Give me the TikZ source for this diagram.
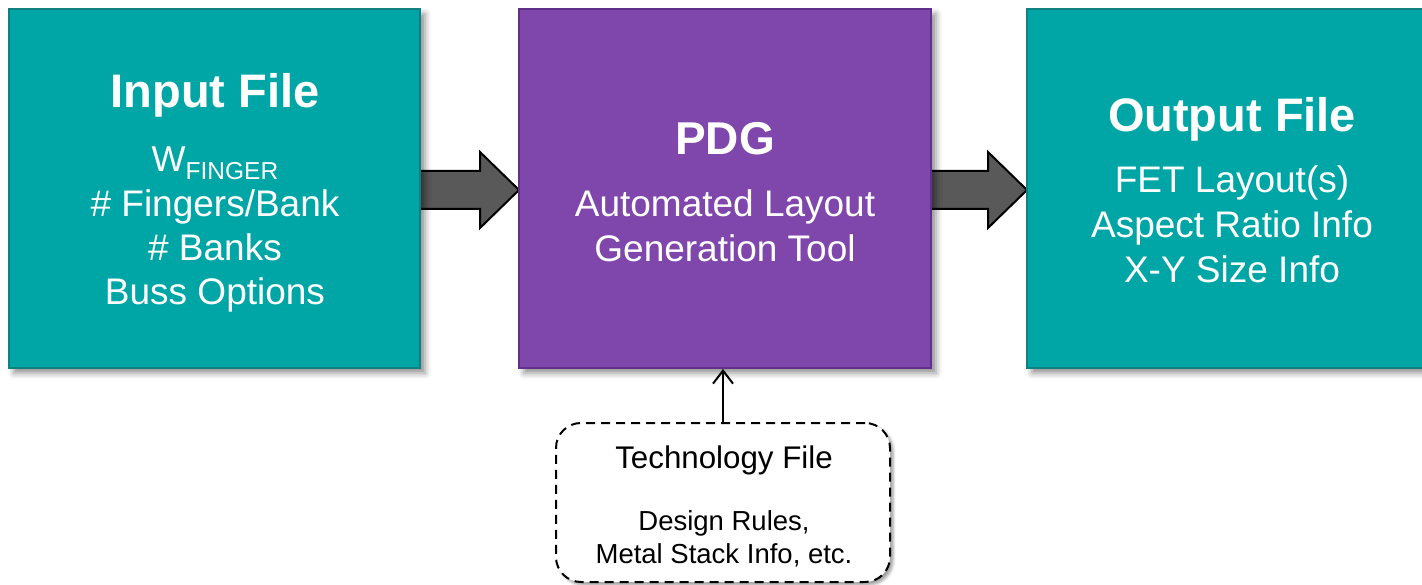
\documentclass[tikz,border=0pt]{standalone}
\usepackage{fontspec}
\setmainfont{Liberation Sans}
\usetikzlibrary{calc,arrows.meta,shadows.blur}

\definecolor{tealfill}{RGB}{0,166,166}
\definecolor{tealline}{RGB}{16,128,128}
\definecolor{purplefill}{RGB}{127,71,171}
\definecolor{purpleline}{RGB}{96,48,138}
\definecolor{arrowgray}{RGB}{89,89,89}

\newcommand{\fs}[1]{\fontsize{#1}{#1}\selectfont}

\tikzset{
  boxshadow/.style={blur shadow={shadow xshift=5pt, shadow yshift=-5pt,
      shadow blur radius=6pt, shadow opacity=45}},
  filebox/.style={rectangle, draw=tealline, fill=tealfill, line width=2pt,
      minimum width=411pt, minimum height=359pt, inner sep=0pt, boxshadow},
  toolbox/.style={rectangle, draw=purpleline, fill=purplefill, line width=2pt,
      minimum width=412pt, minimum height=359pt, inner sep=0pt, boxshadow},
  techbox/.style={rectangle, draw=black, fill=white, line width=2pt,
      dash pattern=on 9pt off 6pt, rounded corners=25pt,
      minimum width=334pt, minimum height=159pt, inner sep=0pt,
      blur shadow={shadow xshift=3pt, shadow yshift=-3pt,
      shadow blur radius=3pt, shadow opacity=40}},
  title/.style={text=white, inner sep=0pt, anchor=base, font=\bfseries\fs{47}},
  body/.style={text=white, inner sep=0pt, anchor=base, font=\fs{37}},
  darktext/.style={text=black, inner sep=0pt, anchor=base},
  blockarrow/.style={draw=black, fill=arrowgray, line width=2pt, line join=miter},
  feed/.style={draw=black, line width=2pt,
      -{Straight Barb[length=13pt,width=20pt,line width=2pt]}}
}

\begin{document}
\begin{tikzpicture}[x=1pt, y=-1pt]
  \useasboundingbox (0,0) rectangle (1422,585);

  % anchor points of the box centres
  \coordinate (cinp) at (214.5,188.5);
  \coordinate (cpdg) at (725,188.5);
  \coordinate (cout) at (1232.5,188.5);

  % block arrows, drawn first so the boxes and their shadows overlap the shaft ends
  \path (cinp) ++(205.5,0) coordinate (ia);
  \path (cpdg) ++(-206,0) coordinate (pa);
  \path (cpdg) ++(206,0) coordinate (pb);
  \path (cout) ++(-205.5,0) coordinate (ob);

  \coordinate (a1s) at ($(ia)+(-6,1.5)$);
  \coordinate (a1e) at ($(pa)+(0,1.5)$);
  \draw[blockarrow]
    ($(a1s)+(0,-19)$) -- ($(a1e)+(-39,-19)$) -- ($(a1e)+(-39,-38)$) -- (a1e)
    -- ($(a1e)+(-39,38)$) -- ($(a1e)+(-39,19)$) -- ($(a1s)+(0,19)$) -- cycle;

  \coordinate (a2s) at ($(pb)+(-6,1.5)$);
  \coordinate (a2e) at ($(ob)+(0,1.5)$);
  \draw[blockarrow]
    ($(a2s)+(0,-19)$) -- ($(a2e)+(-39,-19)$) -- ($(a2e)+(-39,-38)$) -- (a2e)
    -- ($(a2e)+(-39,38)$) -- ($(a2e)+(-39,19)$) -- ($(a2s)+(0,19)$) -- cycle;

  % main boxes
  \node[filebox] (inp) at (cinp) {};
  \node[toolbox] (pdg) at (cpdg) {};
  \node[filebox] (out) at (cout) {};

  % technology file box
  \node[techbox] (tech) at (723,502.5) {};

  % feed from the technology file into the tool
  \draw[feed] (tech.north) -- (tech.north |- pdg.south);

  % input file text
  \node[title] (inpT) at (215,108) {Input File};
  \node[body] (inp1) at (215,172) {\fs{36}W\raisebox{-8pt}{\fs{24.5}FINGER}};
  \node[body] (inp2) at (215,217) {\# Fingers/Bank};
  \node[body] (inp3) at (215,261) {\# Banks};
  \node[body] (inp4) at (215,305) {Buss Options};

  % tool text
  \node[title, font=\bfseries\fs{46}] (pdgT) at (725,155) {PDG};
  \node[body] (pdg1) at (725,217) {Automated Layout};
  \node[body] (pdg2) at (725,262) {Generation Tool};

  % output file text
  \node[title] (outT) at (1232,132) {Output File};
  \node[body] (out1) at (1232,193) {FET Layout(s)};
  \node[body] (out2) at (1232,238) {Aspect Ratio Info};
  \node[body] (out3) at (1232,283) {X-Y Size Info};

  % technology file text
  \node[darktext, font=\fs{31.3}] (techT) at (724,468) {Technology File};
  \node[darktext, font=\fs{27.5}] (tech1) at (724,530) {Design Rules,};
  \node[darktext, font=\fs{27.5}] (tech2) at (724,563) {Metal Stack Info, etc.};
\end{tikzpicture}
\end{document}
